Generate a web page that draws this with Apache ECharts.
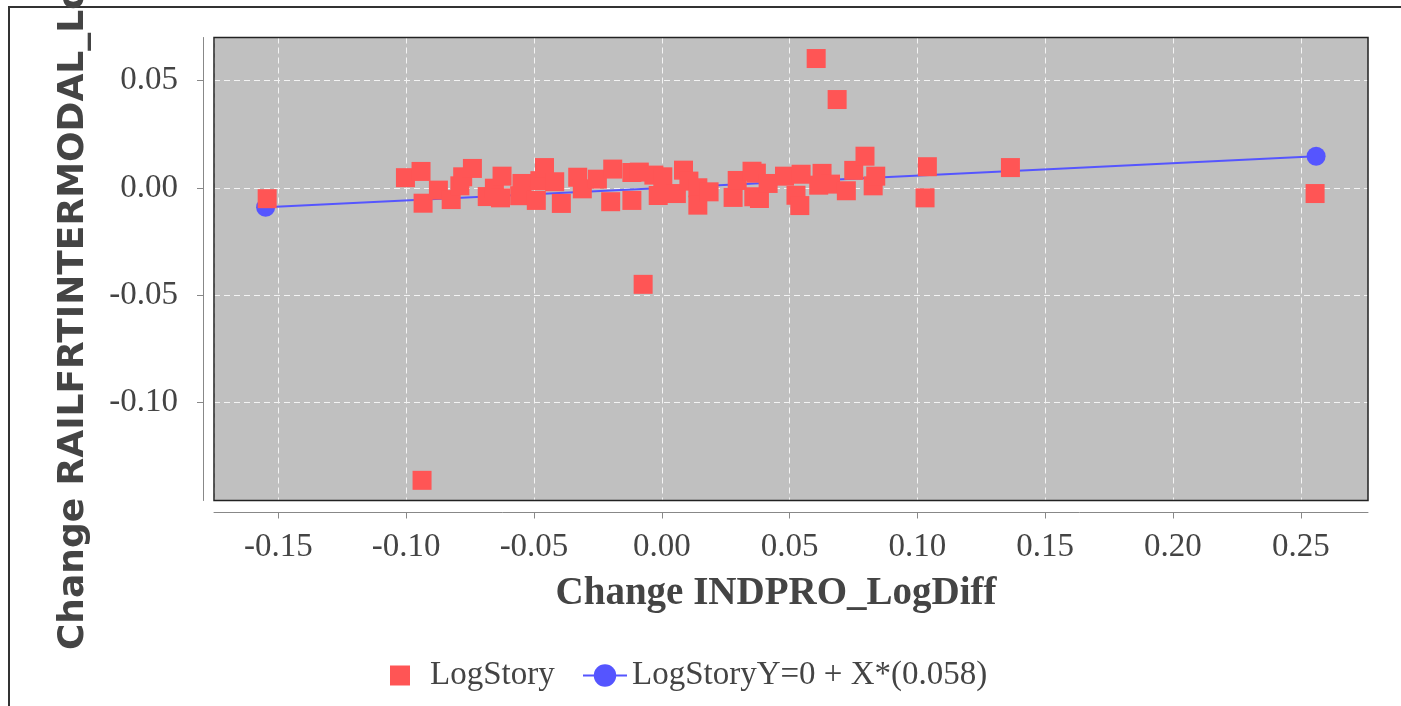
<!DOCTYPE html>
<html>
<head>
<meta charset="utf-8">
<script src="https://cdn.jsdelivr.net/npm/echarts@6/dist/echarts.min.js"></script>
<style>
  html, body { margin: 0; padding: 0; background: #fff; }
  #main { width: 1401px; height: 706px; }
</style>
</head>
<body>
<div id="main"></div>
<script>
  // scatter points (Change INDPRO_LogDiff, Change RAILFRTINTERMODAL_LogDiff)
  var storyX = [
    -0.1544, -0.0938, -0.0073, 0.0604, 0.0686, 0.2556, 0.1039, 0.1364, 0.1030,
    -0.1003, -0.0942, -0.0934, -0.0874, -0.0824, -0.0790, -0.0779, -0.0741,
    -0.0683, -0.0655, -0.0625, -0.0631, -0.0547, -0.0556, -0.0491, -0.0477,
    -0.0459, -0.0419, -0.0393, -0.0329, -0.0311, -0.0252, -0.0192, -0.0200,
    -0.0117, -0.0117, -0.0088, -0.0031, -0.0014, 0.0004, 0.0085, 0.0057,
    0.0106, 0.0141, 0.0141, 0.0185, 0.0279, 0.0295, 0.0353, 0.0360, 0.0370,
    0.0382, 0.0416, 0.0480, 0.0525, 0.0540, 0.0545, 0.0627, 0.0614, 0.0660,
    0.0722, 0.0751, 0.0795, 0.0827, 0.0837
  ];
  var storyY = [
    -0.0050, -0.1362, -0.0449, 0.0603, 0.0412, -0.0026, 0.0099, 0.0095, -0.0046,
    0.0048, 0.0077, -0.0071, -0.0010, -0.0054, 0.0010, 0.0052, 0.0091,
    -0.0040, -0.0001, 0.0055, -0.0046, 0.0021, -0.0036, -0.0058, 0.0034,
    0.0095, 0.0029, -0.0072, 0.0050, -0.0004, 0.0041, 0.0088, -0.0064,
    0.0072, -0.0058, 0.0074, 0.0060, -0.0035, 0.0052, 0.0083, -0.0026,
    0.0032, 0.0001, -0.0080, -0.0018, -0.0044, 0.0035, 0.0078, -0.0041, 0.0069,
    -0.0049, 0.0021, 0.0055, -0.0034, -0.0082, 0.0064, 0.0068, 0.0013, 0.0018,
    -0.0013, 0.0082, 0.0148, 0.0010, 0.0055
  ];
  // fitted line end points
  var fitX = [-0.155, 0.256];
  var fitY = [-0.0090, 0.0148];

  var storyName = 'LogStory';
  var fitName = 'LogStoryY=0 + X*(0.058)';

  var storyData = storyX.map(function (x, i) { return [x, storyY[i]]; });
  var fitData = fitX.map(function (x, i) { return [x, fitY[i]]; });

  var serif = 'Liberation Serif';
  var chart = echarts.init(document.getElementById('main'));
  chart.setOption({
    animation: false,
    graphic: [{
      type: 'rect',
      shape: { x: 9, y: 7, width: 1600, height: 900 },
      style: { fill: 'none', stroke: '#333', lineWidth: 2 },
      silent: true
    }, {
      // plot frame drawn over the split lines
      type: 'rect',
      shape: { x: 214, y: 37.5, width: 1154, height: 463 },
      style: { fill: 'none', stroke: '#222', lineWidth: 1.5 },
      silent: true,
      z: 100
    }],
    grid: {
      left: 214, top: 37.5, right: 33, bottom: 205.5,
      outerBoundsMode: 'none',
      containLabel: false,
      show: true,
      backgroundColor: '#c0c0c0',
      borderWidth: 0
    },
    legend: [{
      data: [storyName],
      left: 390, top: 659, padding: 0,
      icon: 'rect', itemWidth: 20, itemHeight: 20,
      textStyle: { fontFamily: serif, fontSize: 33, color: '#444', lineHeight: 32, padding: [0, 0, 0, 15] }
    }, {
      data: [fitName],
      left: 582, top: 659, padding: 0,
      itemWidth: 44, itemHeight: 28,
      textStyle: { fontFamily: serif, fontSize: 33, color: '#444', lineHeight: 32 }
    }],
    xAxis: {
      type: 'value',
      min: -0.1752, max: 0.2763,
      splitNumber: 9,
      offset: 12,
      name: 'Change INDPRO_LogDiff',
      nameLocation: 'middle',
      nameGap: 62,
      nameTextStyle: { fontFamily: serif, fontSize: 39, fontWeight: 'bold', color: '#444', padding: [0, 30, 0, 0] },
      axisLine: { show: true, onZero: false, lineStyle: { color: '#888', width: 1 } },
      axisTick: { show: true, length: 6, lineStyle: { color: '#888' } },
      axisLabel: {
        fontFamily: serif, fontSize: 33, color: '#444', margin: 18,
        showMinLabel: false, showMaxLabel: false,
        formatter: function (v) { return v.toFixed(2); }
      },
      splitLine: { show: true, lineStyle: { color: '#f4f4f4', type: [6, 4], width: 1 } }
    },
    yAxis: {
      type: 'value',
      min: -0.1456, max: 0.0701,
      splitNumber: 4,
      offset: 11,
      name: 'Change RAILFRTINTERMODAL_LogDiff',
      nameLocation: 'middle',
      nameRotate: 90,
      nameGap: 111,
      nameTextStyle: { fontFamily: 'DejaVu Sans', fontSize: 36, fontWeight: 'bold', color: '#444' },
      axisLine: { show: true, onZero: false, lineStyle: { color: '#888', width: 1 } },
      axisTick: { show: true, length: 6, lineStyle: { color: '#888' } },
      axisLabel: {
        fontFamily: serif, fontSize: 33, color: '#444', margin: 25,
        showMinLabel: false, showMaxLabel: false,
        formatter: function (v) { return v.toFixed(2); }
      },
      splitLine: { show: true, lineStyle: { color: '#f4f4f4', type: [6, 4], width: 1 } }
    },
    series: [{
      name: storyName,
      type: 'scatter',
      data: storyData,
      symbol: 'rect',
      symbolSize: 19,
      itemStyle: { color: '#ff5555', opacity: 1 },
      z: 3
    }, {
      name: fitName,
      type: 'line',
      data: fitData,
      symbol: 'circle',
      symbolSize: 19,
      showAllSymbol: true,
      lineStyle: { color: '#5555ff', width: 2 },
      itemStyle: { color: '#5555ff' },
      z: 2
    }]
  });
</script>
</body>
</html>
